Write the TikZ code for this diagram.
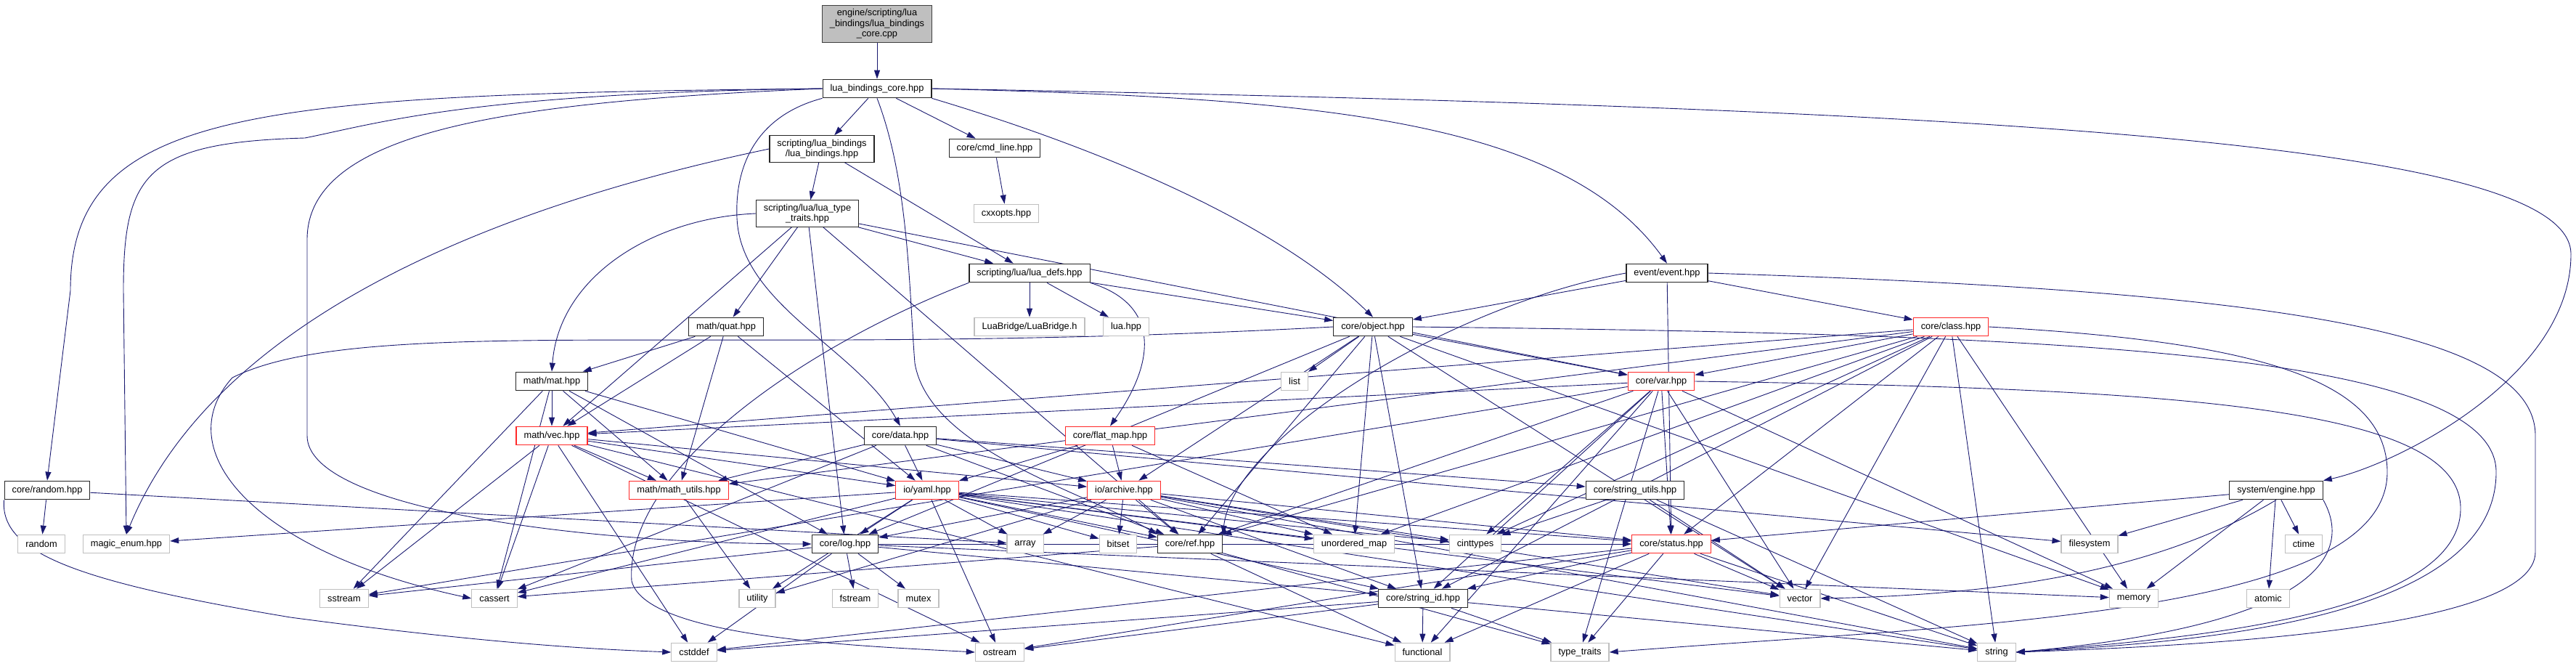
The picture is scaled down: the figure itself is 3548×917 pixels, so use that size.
\documentclass[tikz,border=0pt]{standalone}
\usepackage{fontspec}
\setmainfont{Liberation Sans}
\usetikzlibrary{arrows.meta}
\pgfdeclarelayer{edgelayer}
\pgfsetlayers{edgelayer,main}
\definecolor{navyc}{RGB}{25,25,112}
\definecolor{redb}{RGB}{255,40,40}
\definecolor{grayb}{RGB}{191,191,191}
\newcommand\dgfont{\fontsize{12.8}{14.5}\selectfont}
\tikzset{
  box/.style={draw, rectangle, minimum height=25.5pt, inner xsep=10.5pt, inner ysep=5pt, font=\dgfont, align=center, line width=1.2pt, fill=white},
  blk/.style={box, draw=black!85},
  rbox/.style={box, draw=redb},
  gbox/.style={box, draw=grayb},
  topbox/.style={box, draw=black!75, fill=grayb},
  e/.style={-{Triangle[length=12pt,width=8pt]}, draw=navyc, line width=0.9pt},
}
\begin{document}
\begin{tikzpicture}[x=1pt,y=-1pt]
\useasboundingbox (0,0) rectangle (3548,917);
% nodes
\node[topbox] (cpp) at (1208,33) {engine/scripting/lua\\\_bindings/lua\_bindings\\\_core.cpp};
\node[blk] (core) at (1208,122) {lua\_bindings\_core.hpp};
\node[blk] (lb) at (1132,205) {scripting/lua\_bindings\\/lua\_bindings.hpp};
\node[blk] (cmd) at (1370,204) {core/cmd\_line.hpp};
\node[gbox] (cxx) at (1386,294) {cxxopts.hpp};
\node[blk] (ltt) at (1112,294) {scripting/lua/lua\_type\\\_traits.hpp};
\node[blk] (ldefs) at (1418,376) {scripting/lua/lua\_defs.hpp};
\node[gbox] (bridge) at (1418,450) {LuaBridge/LuaBridge.h};
\node[gbox] (luah) at (1551,450) {lua.hpp};
\node[blk] (obj) at (1891,450) {core/object.hpp};
\node[blk] (evt) at (2296,376) {event/event.hpp};
\node[rbox] (cls) at (2687,450) {core/class.hpp};
\node[blk] (quat) at (1000,450) {math/quat.hpp};
\node[blk] (mat) at (760,525) {math/mat.hpp};
\node[rbox] (vec) at (760,600) {math/vec.hpp};
\node[rbox] (mu) at (935,675) {math/math\_utils.hpp};
\node[blk] (rnd) at (65,675) {core/random.hpp};
\node[gbox] (random) at (57,749) {random};
\node[gbox] (magic) at (174,749) {magic\_enum.hpp};
\node[blk] (data) at (1240,600) {core/data.hpp};
\node[rbox] (fmap) at (1529,600) {core/flat\_map.hpp};
\node[rbox] (yaml) at (1277,675) {io/yaml.hpp};
\node[rbox] (arch) at (1548,675) {io/archive.hpp};
\node[rbox] (var) at (2288,525) {core/var.hpp};
\node[gbox] (list) at (1783,525) {list};
\node[blk] (su) at (2252,675) {core/string\_utils.hpp};
\node[blk] (eng) at (3135,675) {system/engine.hpp};
\node[blk] (log) at (1164,749) {core/log.hpp};
\node[gbox] (array) at (1412,749) {array};
\node[gbox] (bitset) at (1540,749) {bitset};
\node[blk] (ref) at (1639,749) {core/ref.hpp};
\node[gbox] (umap) at (1865,749) {unordered\_map};
\node[gbox] (cint) at (2032,749) {cinttypes};
\node[rbox] (status) at (2302,749) {core/status.hpp};
\node[gbox] (fs) at (2878,749) {filesystem};
\node[gbox] (ctime) at (3173,749) {ctime};
\node[gbox] (sstream) at (474,824) {sstream};
\node[gbox] (cassert) at (681,824) {cassert};
\node[gbox] (utility) at (1043,824) {utility};
\node[gbox] (fstream) at (1178,824) {fstream};
\node[gbox] (mutex) at (1265,824) {mutex};
\node[blk] (sid) at (1960,824) {core/string\_id.hpp};
\node[gbox] (vector) at (2479,824) {vector};
\node[gbox] (memory) at (2939,824) {memory};
\node[gbox] (atomic) at (3124,824) {atomic};
\node[gbox] (cstddef) at (956,898) {cstddef};
\node[gbox] (ostream) at (1377,898) {ostream};
\node[gbox] (functional) at (1959,898) {functional};
\node[gbox] (tt) at (2176,898) {type\_traits};
\node[gbox] (string) at (2750,898) {string};

\begin{pgfonlayer}{edgelayer}
% curved edges
\draw[e] (cpp) -- (core);
\draw[e] (core.west) .. controls (350,130) and (97,150) .. (97,400) -- (rnd.north);
\draw[e] (core.west) .. controls (650,128) and (520,170) .. (420,190) .. controls (200,196) and (170,240) .. (170,400) -- (magic.north);
\draw[e] (core.west) .. controls (700,140) and (423,180) .. (423,330) -- (423,600) .. controls (423,700) and (800,749) .. (log.west);
\draw[e] (lb.west) .. controls (700,280) and (300,430) .. (magic.north);
\draw[e] (core.south west) .. controls (1040,160) and (1012,230) .. (1015,300) .. controls (1020,420) and (1180,480) .. (data.north);
\draw[e] (core.south) .. controls (1252,250) and (1252,400) .. (1260,500) .. controls (1280,620) and (1500,680) .. (ref.north west);
\draw[e] (core.south east) .. controls (1500,200) and (1750,300) .. (obj.north);
\draw[e] (core.east) .. controls (1800,135) and (2150,160) .. (evt.north);
\draw[e] (core.east) .. controls (2800,150) and (3541,200) .. (3541,350) .. controls (3541,520) and (3300,640) .. (eng.north east);
\draw[e] (evt.east) .. controls (3100,400) and (3492,450) .. (3492,600) -- (3492,760) .. controls (3492,870) and (3000,890) .. (string.east);
\draw[e] (obj.east) .. controls (2800,460) and (3438,480) .. (3438,650) .. controls (3438,860) and (3000,885) .. (string.east);
\draw[e] (var.east) .. controls (3000,535) and (3389,560) .. (3389,700) .. controls (3389,850) and (3000,880) .. (string.east);
\draw[e] (cls.east) .. controls (3100,470) and (3288,520) .. (3288,650) .. controls (3288,850) and (2700,860) .. (tt.east);
\draw[e] (rnd.south west) .. controls (0,760) and (100,800) .. (400,850) .. controls (700,890) and (850,895) .. (cstddef.west);
\draw[e] (obj.west) .. controls (1000,495) and (500,430) .. (320,520) .. controls (230,620) and (350,760) .. (cassert.west);
\draw[e] (ldefs.south east) .. controls (1600,420) and (1590,500) .. (fmap.north);
\draw[e] (ltt.west) .. controls (900,300) and (770,380) .. (mat.north);
\draw[e] (ldefs.south west) .. controls (1100,480) and (860,650) .. (870,800) .. controls (890,880) and (1200,890) .. (ostream.west);
\draw[e] (evt.west) .. controls (2000,420) and (1700,600) .. (ref.north east);
\draw[e] (eng.south) .. controls (2950,800) and (2700,820) .. (vector.east);
\draw[e] (eng.south east) .. controls (3240,760) and (3200,860) .. (string.east);

% straight edges
\foreach \s/\t in {core/lb, core/cmd, lb/ltt, lb/ldefs, cmd/cxx,
  ltt/ldefs, ltt/quat, ltt/vec, ltt/var, ltt/log, ltt/ref,
  ldefs/bridge, ldefs/luah, ldefs/obj,
  obj/list, obj/ref, obj/umap, obj/sid, obj/var, obj/arch, obj/vector, obj/memory, obj/log,
  evt/obj, evt/cls, evt/status,
  cls/var, cls/ref, cls/cint, cls/umap, cls/sid, cls/status, cls/vector, cls/memory, cls/string, cls/vec, cls/mu,
  var/vec, var/sstream, var/cint, var/status, var/vector, var/memory, var/tt, var/functional, var/sid, var/ref,
  quat/mat, quat/vec, quat/mu, quat/yaml,
  mat/vec, mat/mu, mat/cassert, mat/sstream, mat/log, mat/yaml,
  vec/mu, vec/sstream, vec/cassert, vec/cstddef, vec/ostream, vec/functional, vec/yaml, vec/arch,
  mu/utility, rnd/random, rnd/array,
  data/yaml, data/arch, data/mu, data/cassert, data/ref, data/su, data/fs,
  fmap/arch, fmap/yaml, fmap/umap,
  yaml/log, yaml/array, yaml/bitset, yaml/ref, yaml/umap, yaml/cint, yaml/sid, yaml/status, yaml/cassert, yaml/utility, yaml/magic, yaml/vector, yaml/string, yaml/ostream,
  arch/log, arch/array, arch/bitset, arch/ref, arch/umap, arch/cint, arch/sid, arch/status, arch/vector, arch/string, arch/utility,
  su/cint, su/vector, su/string,
  eng/status, eng/fs, eng/memory, eng/atomic, eng/ctime,
  log/sstream, log/fstream, log/mutex, log/cstddef, log/sid, log/status, log/memory,
  ref/cassert, ref/functional, ref/tt,
  status/sid, status/vector, status/string, status/tt, status/cstddef, status/ostream, status/functional,
  sid/functional, sid/tt, sid/ostream, sid/string, sid/cstddef}
  {\draw[e] (\s) -- (\t);}
\end{pgfonlayer}
\end{tikzpicture}
\end{document}
